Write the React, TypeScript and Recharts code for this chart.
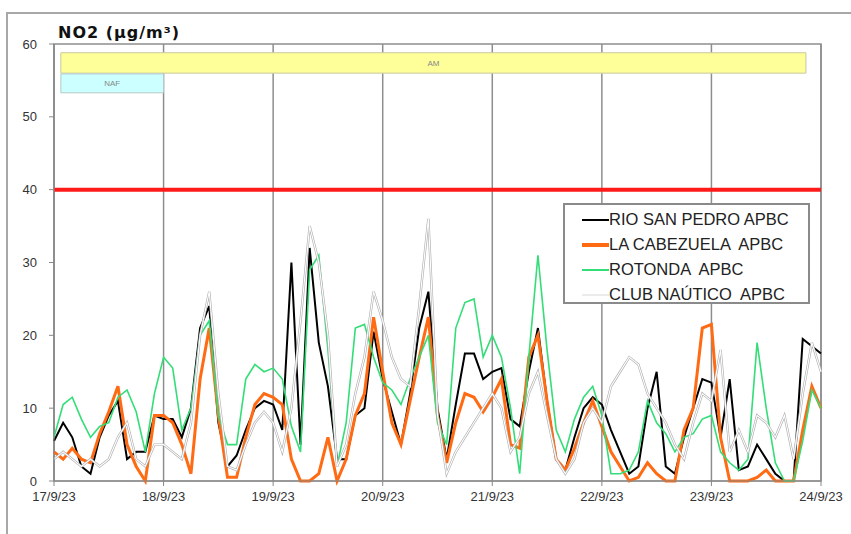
import {
  LineChart,
  Line,
  XAxis,
  YAxis,
  CartesianGrid,
  ReferenceLine,
  ReferenceArea,
  Legend,
} from "recharts";

// hours since 17/9/23 00:00, sampled every 2 h
const hours = [
  0, 2, 4, 6, 8, 10, 12, 14, 16, 18, 20, 22,
  24, 26, 28, 30, 32, 34, 36, 38, 40, 42, 44, 46,
  48, 50, 52, 54, 56, 58, 60, 62, 64, 66, 68, 70,
  72, 74, 76, 78, 80, 82, 84, 86, 88, 90, 92, 94,
  96, 98, 100, 102, 104, 106, 108, 110, 112, 114, 116, 118,
  120, 122, 124, 126, 128, 130, 132, 134, 136, 138, 140, 142,
  144, 146, 148, 150, 152, 154, 156, 158, 160, 162, 164, 166,
  168,
];

const rioSanPedro = [
  5.5, 8, 6, 2, 1, 6, 9, 11, 3, 4, 4, 9,
  8.5, 8.5, 6, 10, 21, 24, 8, 2, 3.5, 7, 10, 11,
  10.5, 7, 30, 5, 32, 19, 13, 3, 3, 9, 10, 20.5,
  14, 9.5, 5, 12, 21, 26, 10, 3, 10.5, 17.5, 17.5, 14,
  15, 15.5, 8.5, 7.5, 15, 21, 11, 3, 1.5, 6, 10, 11.5,
  10.5, 7, 4, 1, 2, 10, 15, 2, 1, 6, 10, 14,
  13.5, 6, 14, 1.5, 2, 5, 3, 1, 0, 0, 19.5, 18.5,
  17.5,
];

const laCabezuela = [
  4, 3, 4.5, 3, 2.5, 6.5, 9.5, 13, 5, 2, 0, 9,
  9, 8, 5, 1, 14, 21, 9, 0.5, 0.5, 6, 10.5, 12,
  11.5, 10.5, 3, 0, 0, 1, 6, 0, 3, 9, 12, 22.5,
  15, 8, 5, 11, 17, 22.5, 9, 2.5, 8, 12, 11.5, 9.5,
  11.5, 14, 5, 4.5, 17, 20, 11, 3, 1.5, 4.5, 8, 11,
  7.5, 4, 2, 0, 0.5, 2.5, 1, 0, 0, 7, 10, 21,
  21.5, 6, 0, 0, 0, 0.5, 1.5, 0, 0, 0, 7, 13,
  10,
];

const rotonda = [
  6, 10.5, 11.5, 8.5, 6, 7.5, 8, 11.5, 12.5, 9.5, 4, 12,
  17, 15.5, 7, 10, 20, 22, 9, 5, 5, 14, 16, 15,
  15.5, 14, 7.5, 4, 29, 31, 18, 2, 8, 21, 21.5, 17,
  13.5, 12.5, 10.5, 14, 17, 20, 8, 5, 21, 24.5, 25, 17,
  20, 17, 10, 1, 17, 31, 18, 7, 4, 8.5, 11.5, 13,
  9, 1, 1, 1.5, 4, 11, 8, 6.5, 4, 6, 6.5, 8.5,
  9, 4, 2.5, 1.5, 3, 19, 10, 2.5, 0, 0, 5.5, 12.5,
  10,
];

const clubNautico = [
  3, 4, 3, 2, 3, 2, 3, 6, 8, 3, 2, 5,
  5, 4, 3, 8, 20, 26, 12, 2, 1.5, 5, 8, 9.5,
  8, 4, 10, 22, 35, 30, 20, 2, 5, 12, 17, 26,
  22, 17, 14, 13, 24, 36, 9, 1, 4, 6, 8, 10,
  12, 10, 4, 6, 12, 15, 9, 3, 1, 3, 8, 10,
  8, 13, 15, 17, 16, 12, 10, 8, 5, 3, 8, 12,
  11, 18, 4, 7, 4, 9, 8, 6, 9, 3, 12, 19,
  15,
];

const dayTicks = [0, 24, 48, 72, 96, 120, 144, 168];
const dayLabels = ["17/9/23", "18/9/23", "19/9/23", "20/9/23", "21/9/23", "22/9/23", "23/9/23", "24/9/23"];
const yTicks = [0, 10, 20, 30, 40, 50, 60];
const limitValue = 40;

// campaign bands drawn at the top of the plot (hours / µg/m³)
const amBand = { x1: 1.5, x2: 164.7, y1: 56.0, y2: 58.8, label: "AM" };
const nafBand = { x1: 1.5, x2: 24, y1: 53.3, y2: 55.9, label: "NAF" };

const data = hours.map((h, i) => ({
  h,
  rio: rioSanPedro[i],
  cabezuela: laCabezuela[i],
  rotonda: rotonda[i],
  nautico: clubNautico[i],
}));

const legendItems = [
  { name: "RIO SAN PEDRO APBC", color: "#000000", width: 2 },
  { name: "LA CABEZUELA  APBC", color: "#ff6a13", width: 4 },
  { name: "ROTONDA  APBC", color: "#33dd77", width: 2 },
  { name: "CLUB NAÚTICO  APBC", color: "#d8d8d8", width: 1 },
];

function LegendBox() {
  return (
    <div
      style={{
        width: 247,
        height: 101,
        boxSizing: "border-box",
        border: "2px solid #8a8a8a",
        background: "#fff",
        paddingTop: 2,
      }}
    >
      {legendItems.map((item) => (
        <div
          key={item.name}
          style={{ display: "flex", alignItems: "center", height: 25, paddingLeft: 17 }}
        >
          <svg width={27} height={8} style={{ display: "block" }}>
            <line x1={0} y1={4} x2={27} y2={4} stroke={item.color} strokeWidth={item.width} />
          </svg>
          <span style={{ whiteSpace: "pre", fontSize: 16.5, color: "#222", lineHeight: "25px" }}>
            {item.name}
          </span>
        </div>
      ))}
    </div>
  );
}

export default function App() {
  return (
    <div
      style={{
        position: "absolute",
        left: 0,
        top: 0,
        width: 851,
        height: 534,
        background: "#fff",
        fontFamily: "'Liberation Sans', Arial, sans-serif",
      }}
    >
      <div
        style={{
          position: "absolute",
          left: 6,
          top: 12,
          width: 845,
          height: 522,
          borderTop: "2px solid #a8a8a8",
          borderLeft: "2px solid #a8a8a8",
          boxSizing: "border-box",
        }}
      />
      <div
        style={{
          position: "absolute",
          left: 58,
          top: 25,
          fontFamily: "'DejaVu Sans', Verdana, sans-serif",
          fontWeight: "bold",
          fontSize: 16,
          letterSpacing: 1,
          lineHeight: "15px",
          color: "#111",
          zIndex: 2,
        }}
      >
        NO2 (µg/m³)
      </div>

      <LineChart
        width={851}
        height={534}
        data={data}
        margin={{ top: 44, right: 30, left: 0, bottom: 23 }}
      >
        <CartesianGrid horizontal={false} stroke="#8e8e8e" strokeWidth={1.5} />
        <XAxis
          type="number"
          dataKey="h"
          domain={[0, 168]}
          ticks={dayTicks}
          interval={0}
          tickFormatter={(v) => dayLabels[dayTicks.indexOf(v)]}
          tick={{ fontSize: 13, fill: "#333" }}
          tickSize={5}
          tickMargin={6}
          stroke="#888"
          height={30}
        />
        <YAxis
          domain={[0, 60]}
          ticks={yTicks}
          interval={0}
          tick={{ fontSize: 13, fill: "#333" }}
          tickSize={5}
          tickMargin={12}
          stroke="#888"
          width={54}
        />
        <ReferenceArea
          x1={0}
          x2={168}
          y1={0}
          y2={60}
          fill="none"
          stroke="#8e8e8e"
          strokeWidth={1.5}
        />
        <ReferenceArea
          x1={amBand.x1}
          x2={amBand.x2}
          y1={amBand.y1}
          y2={amBand.y2}
          fill="#ffff99"
          fillOpacity={1}
          stroke="#c8c8a0"
          label={{ value: amBand.label, position: "center", fontSize: 8, fill: "#888" }}
        />
        <ReferenceArea
          x1={nafBand.x1}
          x2={nafBand.x2}
          y1={nafBand.y1}
          y2={nafBand.y2}
          fill="#ccffff"
          fillOpacity={1}
          stroke="#b8c8c8"
          label={{ value: nafBand.label, position: "center", fontSize: 8, fill: "#888" }}
        />
        <ReferenceLine y={limitValue} stroke="#ff1a1a" strokeWidth={4} />

        <Line
          dataKey="rio"
          name="RIO SAN PEDRO APBC"
          type="linear"
          stroke="#000000"
          strokeWidth={2}
          dot={false}
          isAnimationActive={false}
        />
        <Line
          dataKey="cabezuela"
          name="LA CABEZUELA  APBC"
          type="linear"
          stroke="#ff6a13"
          strokeWidth={3}
          dot={false}
          isAnimationActive={false}
        />
        <Line
          dataKey="rotonda"
          name="ROTONDA  APBC"
          type="linear"
          stroke="#33dd77"
          strokeWidth={1.6}
          dot={false}
          isAnimationActive={false}
        />
        <Line
          dataKey="nautico"
          name="CLUB NAÚTICO edge"
          type="linear"
          stroke="#b0b0b0"
          strokeWidth={2.4}
          dot={false}
          legendType="none"
          isAnimationActive={false}
        />
        <Line
          dataKey="nautico"
          name="CLUB NAÚTICO  APBC"
          type="linear"
          stroke="#ffffff"
          strokeWidth={1.1}
          dot={false}
          isAnimationActive={false}
        />

        <Legend
          layout="vertical"
          align="center"
          verticalAlign="middle"
          content={() => <LegendBox />}
          wrapperStyle={{ left: 563, top: 203, width: 247, height: 101 }}
        />
      </LineChart>
    </div>
  );
}
